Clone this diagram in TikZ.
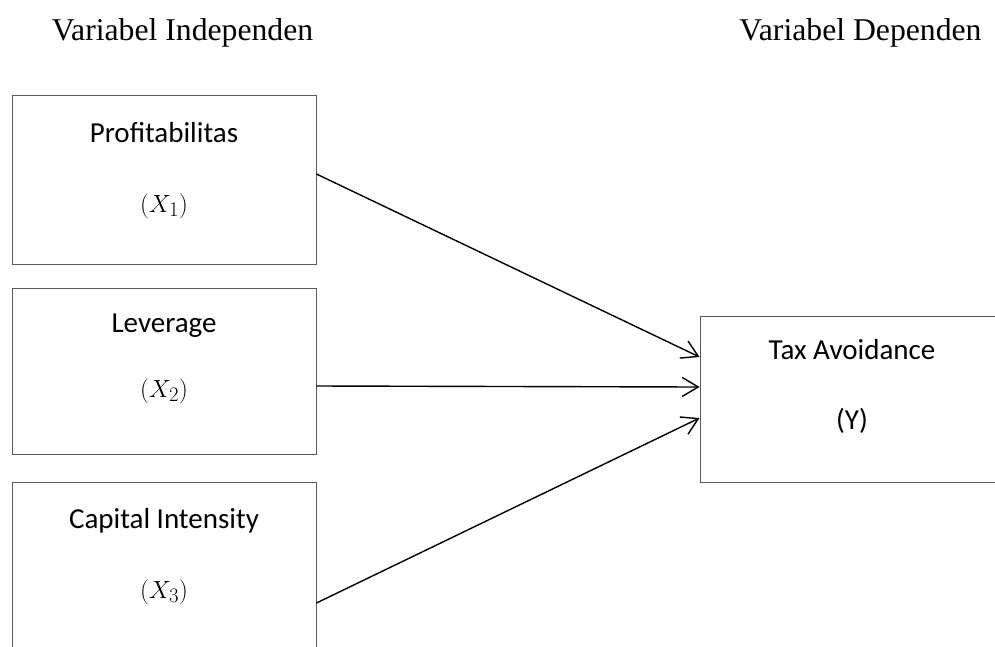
\documentclass[tikz,border=0pt]{standalone}
\usepackage{fontspec}
\setmainfont{Carlito}
\newfontfamily\headfont{Liberation Serif}
\usetikzlibrary{arrows.meta}
\tikzset{
  varbox/.style={draw=black!65, line width=0.9pt, rectangle, inner sep=0pt, fill=none},
  lbl/.style={anchor=base, inner sep=0pt, font=\fontsize{29}{34}\selectfont},
  head/.style={anchor=base, inner sep=0pt, font=\headfont\fontsize{31.7}{38}\selectfont},
  arr/.style={line width=1.4pt, -{Straight Barb[length=16pt,width=19pt,line width=1.4pt]}}
}
\begin{document}
\begin{tikzpicture}[x=1pt,y=-1pt]
\useasboundingbox (0,0) rectangle (995,646);
\clip (0,0) rectangle (995,646);
\fill[white] (0,0) rectangle (995,646);
% headers
\node[head] (h1) at (182.5,40) {Variabel Independen};
\node[head] (h2) at (860.5,40) {Variabel Dependen};
% boxes
\node[varbox, minimum width=304pt, minimum height=169pt] (b1) at (164,179.5) {};
\node[varbox, minimum width=304pt, minimum height=166pt] (b2) at (164,371) {};
\node[varbox, minimum width=304pt, minimum height=178pt] (b3) at (164,571) {};
\node[varbox, minimum width=304pt, minimum height=166pt] (ty) at (852,399) {};
% texts
\node[lbl] (t1) at (164,142) {Profitabilitas};
\node[lbl] (m1) at (164,212) {$(X_1)$};
\node[lbl] (t2) at (164,332) {Leverage};
\node[lbl] (m2) at (164,397) {$(X_2)$};
\node[lbl] (t3) at (164,528) {Capital Intensity};
\node[lbl] (m3) at (164,598) {$(X_3)$};
\node[lbl] (t4) at (852,359) {Tax Avoidance};
\node[lbl] (m4) at (852,429) {(Y)};
% arrows
\draw[arr] ([yshift=5.5pt]b1.east) -- ([yshift=42pt]ty.west);
\draw[arr] ([yshift=-15pt]b2.east) -- ([yshift=12pt]ty.west);
\draw[arr] ([yshift=-32pt]b3.east) -- ([yshift=-19pt]ty.west);
\end{tikzpicture}
\end{document}
